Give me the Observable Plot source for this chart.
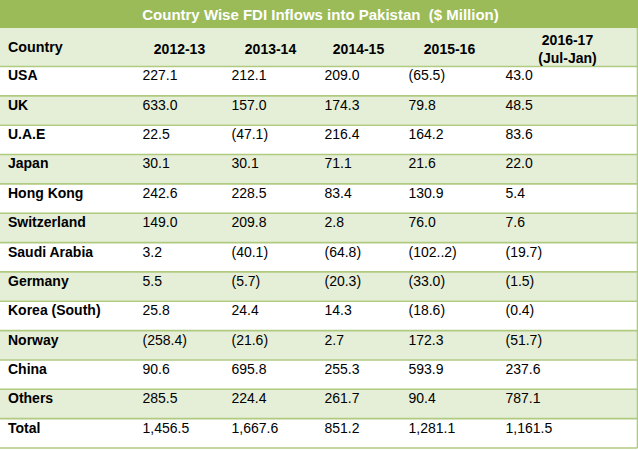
<!DOCTYPE html>
<html>
<head>
<meta charset="utf-8">
<script src="https://cdn.jsdelivr.net/npm/d3@7"></script>
<script src="https://cdn.jsdelivr.net/npm/@observablehq/plot@0.6"></script>
<style>
  html, body { margin: 0; padding: 0; background: #fff; }
  #chart svg { display: block; }
</style>
</head>
<body>
<div id="chart"></div>
<script>
const title = "Country Wise FDI Inflows into Pakistan  ($ Million)";
const headerLabel = "Country";
const years = ["2012-13", "2013-14", "2014-15", "2015-16", "2016-17\n(Jul-Jan)"];
const countries = ["USA", "UK", "U.A.E", "Japan", "Hong Kong", "Switzerland", "Saudi Arabia", "Germany", "Korea (South)", "Norway", "China", "Others", "Total"];
const fdi2012_13 = ["227.1", "633.0", "22.5", "30.1", "242.6", "149.0", "3.2", "5.5", "25.8", "(258.4)", "90.6", "285.5", "1,456.5"];
const fdi2013_14 = ["212.1", "157.0", "(47.1)", "30.1", "228.5", "209.8", "(40.1)", "(5.7)", "24.4", "(21.6)", "695.8", "224.4", "1,667.6"];
const fdi2014_15 = ["209.0", "174.3", "216.4", "71.1", "83.4", "2.8", "(64.8)", "(20.3)", "14.3", "2.7", "255.3", "261.7", "851.2"];
const fdi2015_16 = ["(65.5)", "79.8", "164.2", "21.6", "130.9", "76.0", "(102..2)", "(33.0)", "(18.6)", "172.3", "593.9", "90.4", "1,281.1"];
const fdi2016_17 = ["43.0", "48.5", "83.6", "22.0", "5.4", "7.6", "(19.7)", "(1.5)", "(0.4)", "(51.7)", "237.6", "787.1", "1,161.5"];

const series = [fdi2012_13, fdi2013_14, fdi2014_15, fdi2015_16, fdi2016_17];

// layout (pixel space)
const W = 638, H = 450;
const titleBottom = 28, headerBottom = 66, tableBottom = 447.5;
const rowH = (tableBottom - headerBottom) / countries.length;
const valueX = [142, 231, 324, 408, 505];
const headX = [179, 270, 358, 449, 567];
const countryX = 7.5;
const rightEdge = 637;

const rows = countries.map((c, i) => ({c, i, y0: headerBottom + i * rowH, y1: headerBottom + (i + 1) * rowH}));
const cells = [];
series.forEach((arr, j) => arr.forEach((v, i) => cells.push({v, x: valueX[j], y: headerBottom + i * rowH + 4})));
const heads = years.map((yr, j) => ({yr, x: headX[j], y: yr.includes("\n") ? 32.5 : 41}));
const lines = d3.range(countries.length + 1).map(i => headerBottom + i * rowH);

const green = "#9bbb59", light = "#e5eed7", lineCol = "#b0ca80";
const font = "Liberation Sans, Arial, sans-serif";

const chart = Plot.plot({
  width: W, height: H,
  marginTop: 0, marginRight: 0, marginBottom: 0, marginLeft: 0,
  x: {domain: [0, W], range: [0, W], axis: null},
  y: {domain: [0, H], range: [0, H], axis: null},
  style: {fontFamily: font, background: "#fff"},
  marks: [
    Plot.rect([title], {x1: 0, x2: W, y1: 0, y2: titleBottom, fill: green}),
    Plot.rect([headerLabel], {x1: 0, x2: rightEdge, y1: titleBottom, y2: headerBottom, fill: light}),
    Plot.rect(rows.filter(r => r.i % 2 === 1), {x1: 0, x2: rightEdge, y1: "y0", y2: "y1", fill: light}),
    Plot.ruleY(lines, {y: d => d, x1: 0, x2: rightEdge, stroke: lineCol, strokeWidth: 1.6}),
    Plot.ruleX([rightEdge], {x: d => d, y1: titleBottom, y2: tableBottom + 0.8, stroke: lineCol, strokeWidth: 1.6}),
    Plot.text([title], {x: W / 2 + 1, y: titleBottom / 2 + 1, text: d => d, fill: "#fff", fontWeight: "bold", fontSize: 15, textAnchor: "middle", lineAnchor: "middle"}),
    Plot.text([headerLabel], {x: countryX, y: 41, text: d => d, fill: "#000", fontWeight: "bold", fontSize: 14.3, textAnchor: "start", lineAnchor: "top"}),
    Plot.text(heads, {x: "x", y: "y", text: "yr", fill: "#000", fontWeight: "bold", fontSize: 14, textAnchor: "middle", lineAnchor: "top", lineHeight: 1.25}),
    Plot.text(rows, {x: countryX, y: d => d.y0 + 4, text: "c", fill: "#000", fontWeight: "bold", fontSize: 14, textAnchor: "start", lineAnchor: "top"}),
    Plot.text(cells, {x: "x", y: "y", text: "v", fill: "#000", fontSize: 14, textAnchor: "start", lineAnchor: "top"})
  ]
});
document.getElementById("chart").appendChild(chart);
</script>
</body>
</html>
